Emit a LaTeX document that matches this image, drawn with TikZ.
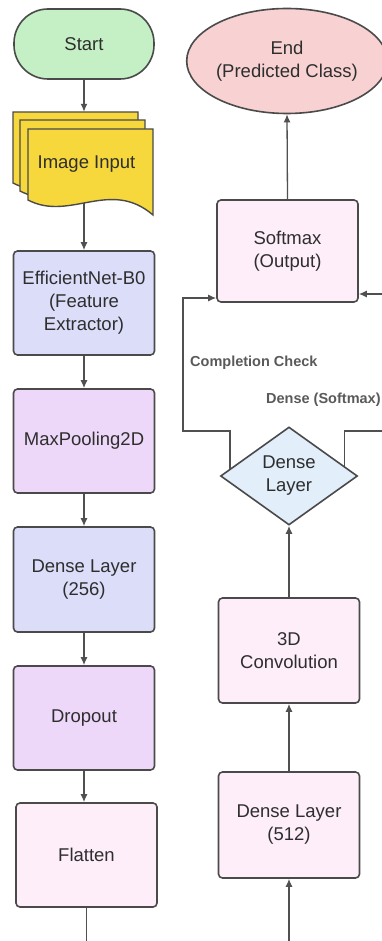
\documentclass[tikz,border=0pt]{standalone}
\usepackage{fontspec}
\setmainfont{Liberation Sans}
\usetikzlibrary{arrows.meta,shapes.geometric,calc}
\definecolor{boxline}{HTML}{4A4A4A}
\definecolor{conn}{HTML}{505050}
\definecolor{txt}{HTML}{2E2E2E}
\definecolor{lbltxt}{HTML}{5A5A5A}
\definecolor{startg}{HTML}{C5F0C5}
\definecolor{imgy}{HTML}{F6D83C}
\definecolor{blu}{HTML}{DCDDF9}
\definecolor{purp}{HTML}{EED8F9}
\definecolor{pinkl}{HTML}{FDEEF9}
\definecolor{endp}{HTML}{F8D2D2}
\definecolor{diab}{HTML}{E2EEFA}
\pgfdeclarelayer{bg}
\pgfsetlayers{bg,main}
\begin{document}
\begin{tikzpicture}[x=1pt,y=-1pt,
  font=\fontsize{18.5}{23}\selectfont,
  box/.style={draw=boxline,line width=1.6pt,rounded corners=4pt,minimum width=141pt,minimum height=104pt,inner sep=2pt,align=center,text=txt},
  arr/.style={draw=conn,line width=1.3pt,-{Latex[length=8pt,width=7pt]}},
  sheet/.style={draw=boxline,line width=1.4pt,fill=imgy},
  lbl/.style={font=\bfseries\fontsize{14.5}{17}\selectfont,text=lbltxt,inner sep=0pt}]
\useasboundingbox (0,0) rectangle (382,941);
\clip (0,0) rectangle (382,941);

% left column
\node[box,fill=startg,rounded corners=34pt,minimum width=140pt,minimum height=70pt] (start) at (84,44) {Start};
\foreach \dx/\dy in {-15/-17,-8/-9,0/0}{
  \begin{scope}[shift={(\dx,\dy)}]
  \path[sheet] (28,129) -- (153,129) -- (153,215) .. controls (110,178) and (70,222) .. (28,200) -- cycle;
  \end{scope}
}
\node[minimum width=140pt,minimum height=103pt,inner sep=0pt] (img) at (84,163.5) {};
\node[text=txt,inner sep=0pt] (imgtxt) at (86.5,164) {Image Input};
\node[box,fill=blu] (eff) at (84,303) {EfficientNet-B0\\(Feature\\Extractor)};
\node[box,fill=purp] (maxp) at (84,441) {MaxPooling2D};
\node[box,fill=blu,minimum height=105pt] (dtwo) at (84,579.5) {Dense Layer\\(256)};
\node[box,fill=purp] (drop) at (84,718) {Dropout};
\node[box,fill=pinkl] (flat) at (86.5,855) {Flatten};

% right column
\node[ellipse,draw=boxline,line width=1.6pt,fill=endp,minimum width=157pt,minimum height=105pt,inner sep=0pt,align=center,text=txt] (endn) at (287,61) {End\\(Predicted Class)};
\node[box,fill=pinkl,minimum height=102pt] (soft) at (287.5,251) {Softmax\\(Output)};
\node[diamond,draw=boxline,line width=1.6pt,fill=diab,aspect=1.4,minimum width=137pt,minimum height=98pt,inner sep=0pt,align=center,text=txt] (dia) at (289,476) {Dense\\Layer};
\node[box,fill=pinkl,minimum height=105pt] (conv) at (289,650.5) {3D\\Convolution};
\node[box,fill=pinkl,minimum height=106pt] (dfive) at (289,825) {Dense Layer\\(512)};

\node[lbl,anchor=west] (cc) at (190,363) {Completion Check};
\node[lbl,anchor=west] (ds) at (266,400) {Dense (Softmax)};

\begin{pgfonlayer}{bg}
\fill[white] (0,0) rectangle (382,941);
\draw[arr] (start.south) -- (img.north);
\draw[arr] (img.center) -- (eff.north);
\end{pgfonlayer}
\draw[arr] (eff.south) -- (maxp.north);
\draw[arr] (maxp.south) -- (dtwo.north);
\draw[arr] (dtwo.south) -- (drop.north);
\draw[arr] (drop.south) -- (drop.south |- flat.north);
\draw[arr] (flat.south) -- ++(0,60) -| (dfive.south);
\draw[arr] (dfive.north) -- (conv.south);
\draw[arr] (conv.north) -- (dia.south);
\draw[arr] (soft.north) -- (endn.south);
\draw[arr] ($(dia.west)!0.15!(dia.north)$) |- (183,431) |- (soft.west |- 0,298);
\draw[arr] ($(dia.east)!0.2!(dia.north)$) |- (400,431) |- (soft.east |- 0,294);
\end{tikzpicture}
\end{document}
